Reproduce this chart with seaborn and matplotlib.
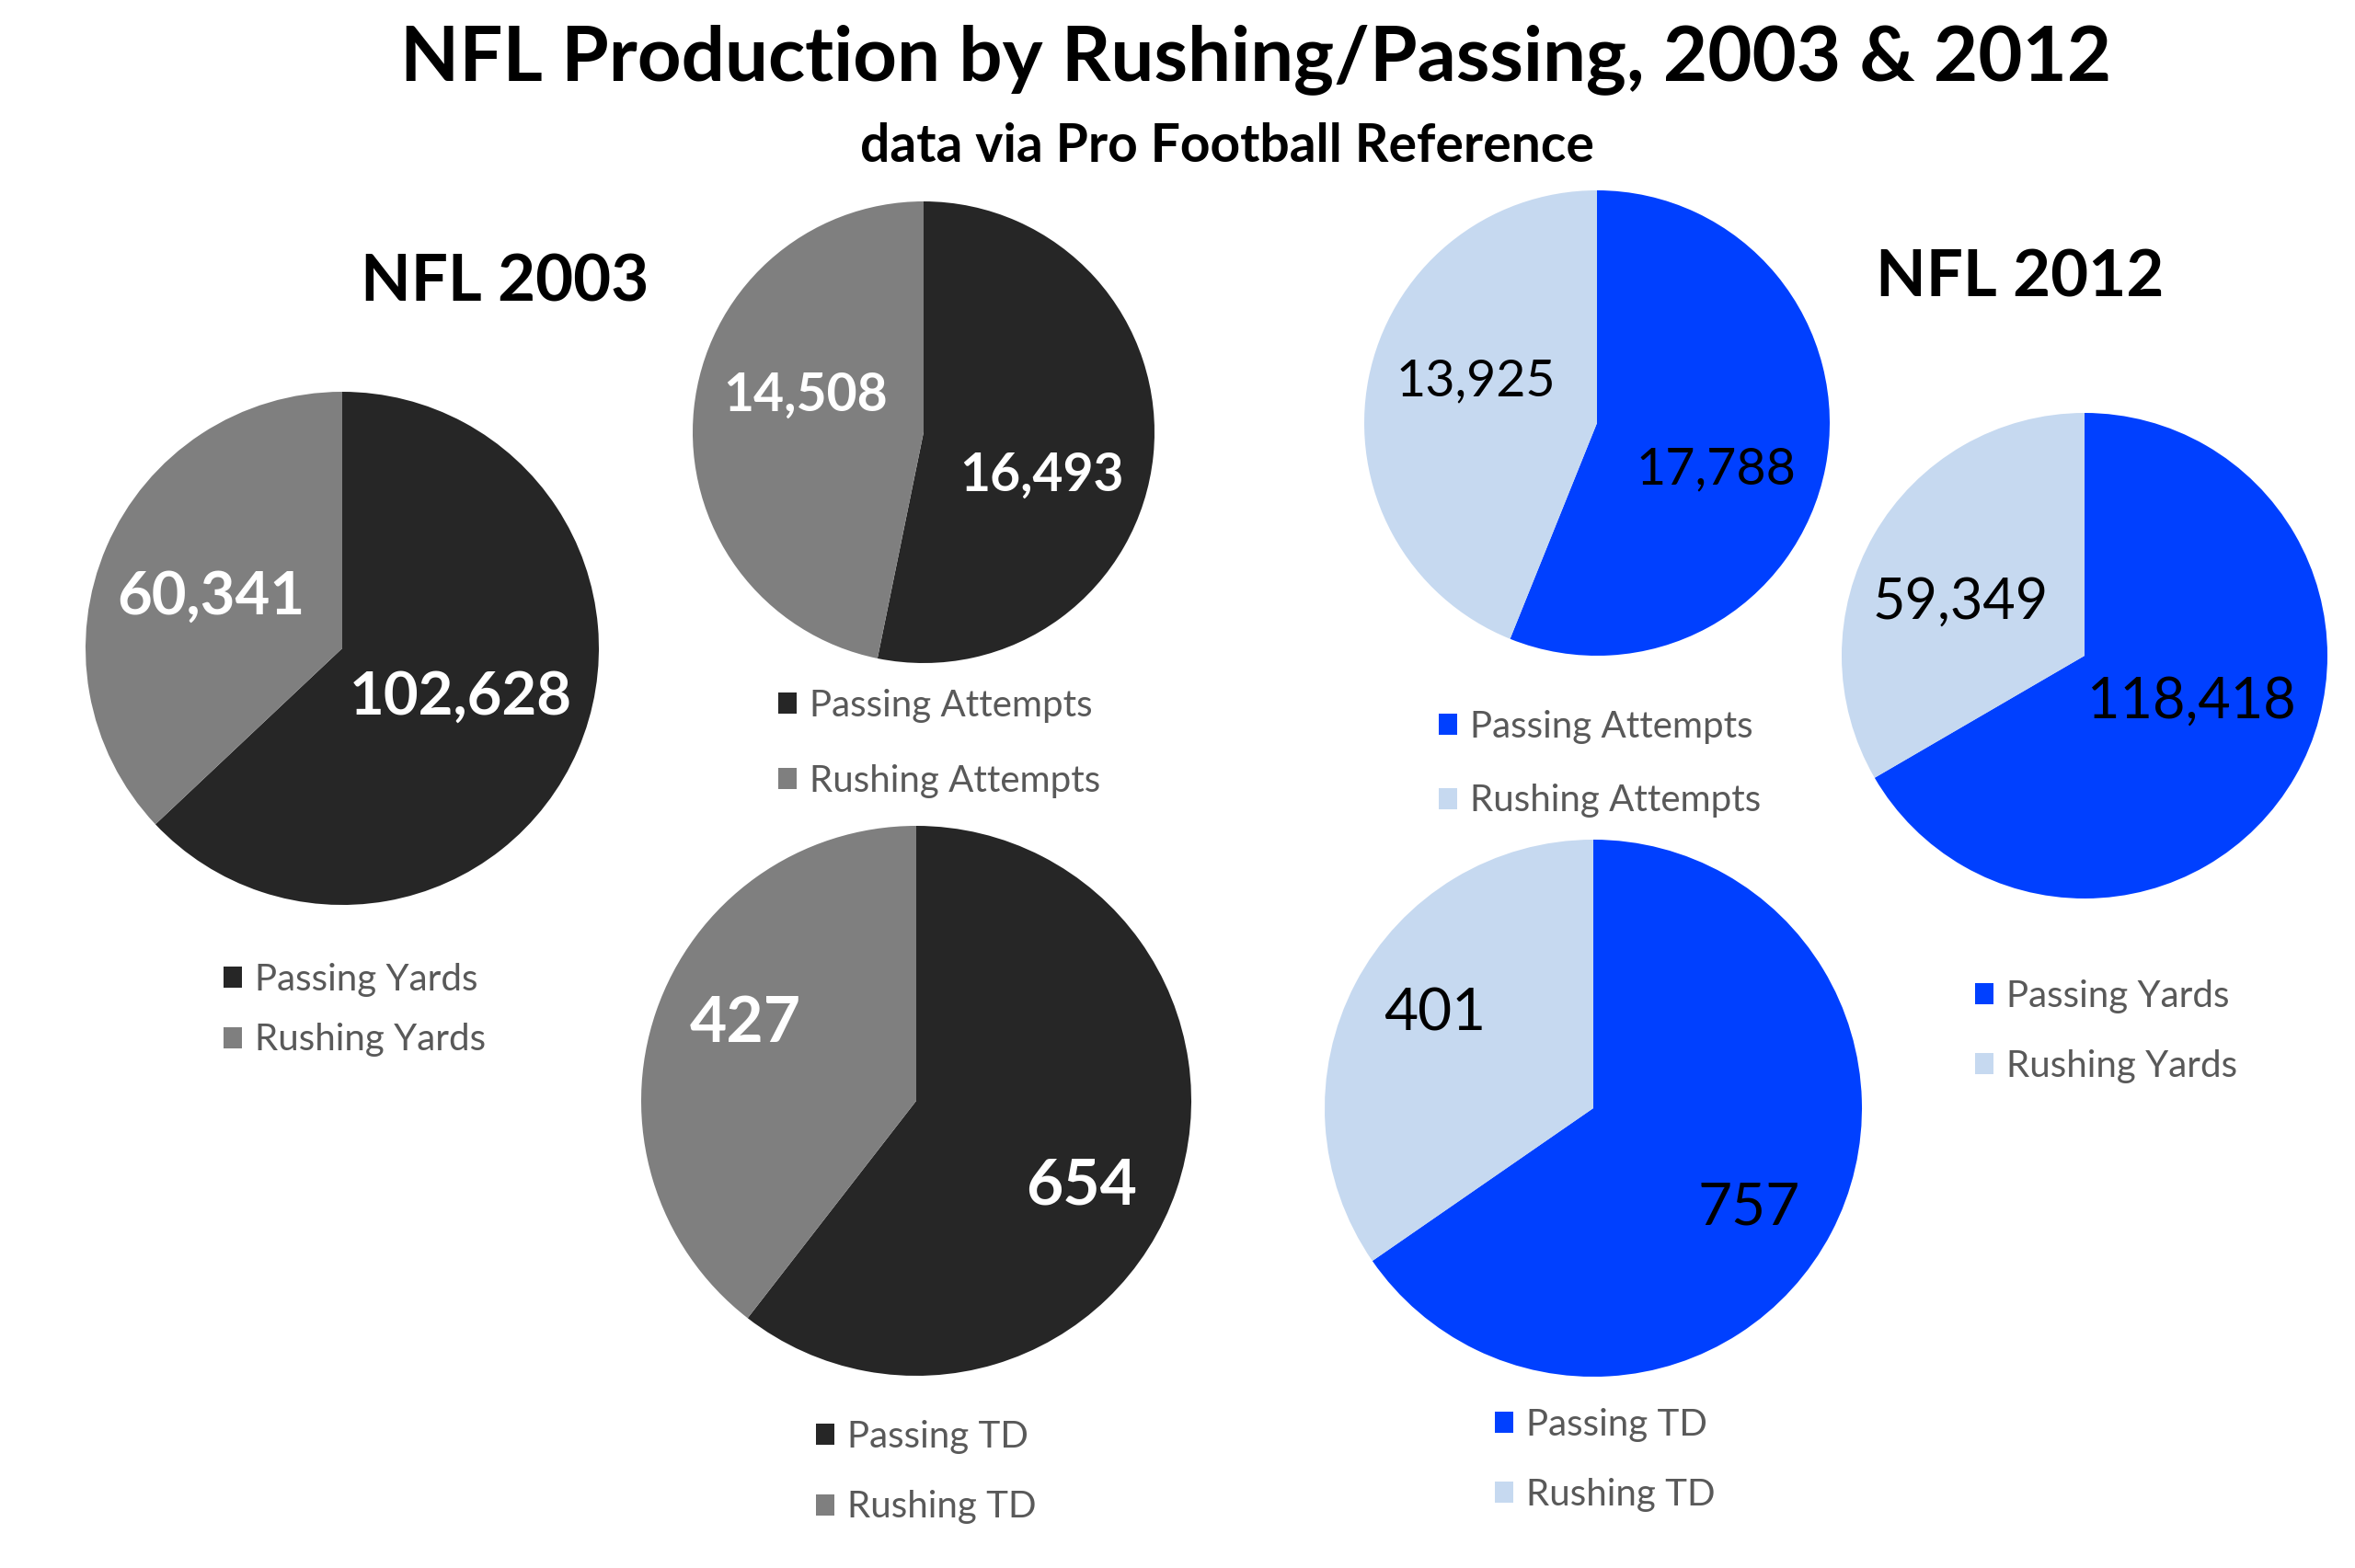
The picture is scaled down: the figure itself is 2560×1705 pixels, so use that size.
import matplotlib
matplotlib.use("Agg")
import matplotlib.pyplot as plt
import seaborn as sns

# ---- data ----
stats = ["Yards", "Attempts", "TD"]
passing_2003 = [102628, 16493, 654]
rushing_2003 = [60341, 14508, 427]
passing_2012 = [118418, 17788, 757]
rushing_2012 = [59349, 13925, 401]

colors_2003 = ["#262626", "#7f7f7f"]
colors_2012 = ["#0040ff", "#c6d9f0"]

W, H = 2560, 1705

# layout in pixels: pie centre x, y, radius / legend top-left / row pitch
pie_layout = {
    (2003, "Yards"):    dict(c=(372, 705, 279), leg=(243, 1066, 67), fs=47,
                             lab=[(0.46, -0.19), (-0.51, 0.20)]),
    (2003, "Attempts"): dict(c=(1004, 470, 251), leg=(846, 768, 83), fs=41,
                             lab=[(0.51, -0.19), (-0.51, 0.16)]),
    (2003, "TD"):       dict(c=(996, 1197, 299), leg=(887, 1563, 78), fs=50,
                             lab=[(0.60, -0.31), (-0.62, 0.28)]),
    (2012, "Attempts"): dict(c=(1736, 460, 253), leg=(1564, 791, 82), fs=40,
                             lab=[(0.51, -0.20), (-0.52, 0.18)]),
    (2012, "Yards"):    dict(c=(2266, 713, 264), leg=(2147, 1084, 77), fs=44,
                             lab=[(0.44, -0.19), (-0.51, 0.22)]),
    (2012, "TD"):       dict(c=(1732, 1205, 292), leg=(1625, 1550, 77), fs=46,
                             lab=[(0.58, -0.37), (-0.59, 0.35)]),
}

sns.set_theme(style="white")
plt.rcParams["font.family"] = ["Lato", "DejaVu Sans"]

fig = plt.figure(figsize=(W / 100, H / 100), dpi=100)
fig.patch.set_facecolor("white")

leg_fs = 29
leg_px = leg_fs * 100 / 72


def draw_pie(year, stat, passing, rushing, colors):
    lay = pie_layout[(year, stat)]
    cx, cy, r = lay["c"]
    ax = fig.add_axes([(cx - r) / W, 1 - (cy + r) / H, 2 * r / W, 2 * r / H])
    vals = [passing, rushing]
    wedges, texts = ax.pie(vals, colors=colors, startangle=90, counterclock=False,
                           labels=[f"{v:,}" for v in vals], labeldistance=0.5,
                           wedgeprops=dict(linewidth=0))
    ax.set_xlim(-1, 1)
    ax.set_ylim(-1, 1)
    for t, pos in zip(texts, lay["lab"]):
        t.set_position(pos)
        t.set_ha("center")
        t.set_va("center")
        t.set_fontsize(lay["fs"])
        if year == 2003:
            t.set_color("white")
            t.set_fontweight("bold")
        else:
            t.set_color("black")

    lx, ly, pitch = lay["leg"]
    row_h = 1.2 * leg_px - 10
    spacing = (pitch - row_h) / leg_px
    top = ly - row_h / 2
    fig.legend(wedges, [f"Passing {stat}", f"Rushing {stat}"],
               loc="upper left", bbox_to_anchor=(lx / W, 1 - top / H),
               frameon=False, fontsize=leg_fs, labelcolor="#595959",
               handlelength=0.5, handleheight=0.5, handletextpad=0.35,
               labelspacing=spacing, borderpad=0, borderaxespad=0)


for i, stat in enumerate(stats):
    draw_pie(2003, stat, passing_2003[i], rushing_2003[i], colors_2003)
    draw_pie(2012, stat, passing_2012[i], rushing_2012[i], colors_2012)

fig.text(1365 / W, 1 - 65 / H, "NFL Production by Rushing/Passing, 2003 & 2012",
         ha="center", va="center", fontsize=60, fontweight="bold", color="black")
fig.text(1334 / W, 1 - 160 / H, "data via Pro Football Reference",
         ha="center", va="center", fontsize=41, fontweight="bold", color="black")
fig.text(549 / W, 1 - 307 / H, "NFL 2003", ha="center", va="center",
         fontsize=51, fontweight="bold", color="black")
fig.text(2196 / W, 1 - 302 / H, "NFL 2012", ha="center", va="center",
         fontsize=51, fontweight="bold", color="black")

fig.savefig("out.png", dpi=100, facecolor="white")
